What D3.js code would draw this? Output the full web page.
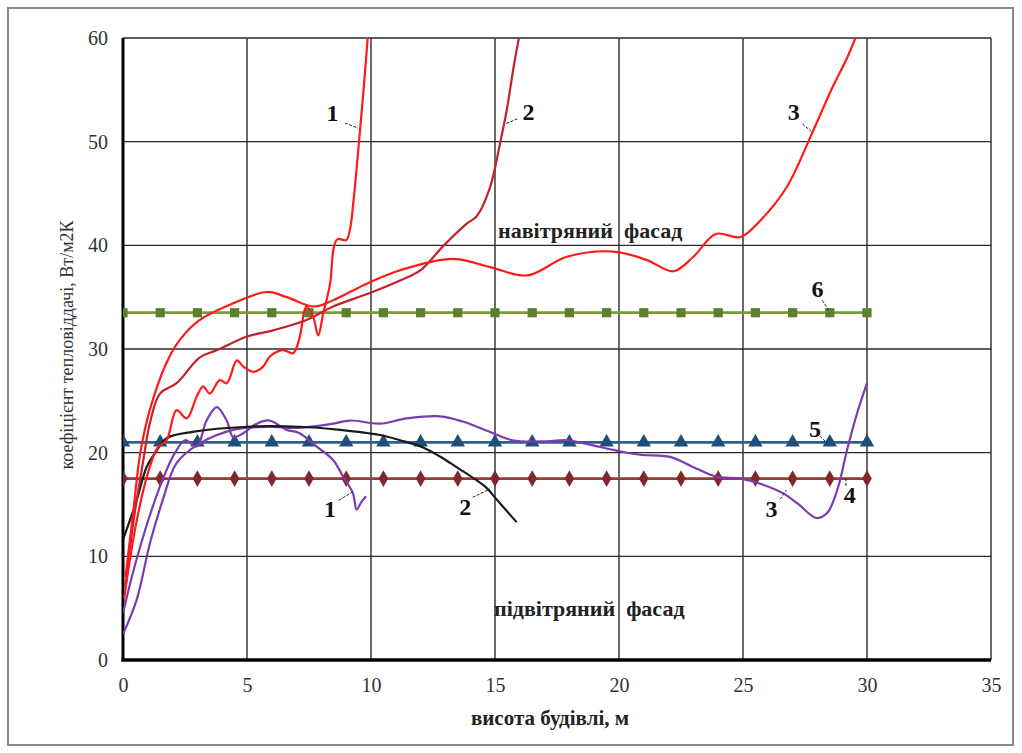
<!DOCTYPE html>
<html><head><meta charset="utf-8">
<script src="https://cdn.jsdelivr.net/npm/d3@7"></script>
<style>
body{margin:0;background:#fff;}
</style></head>
<body><svg id="c" width="1022" height="753"></svg>
<script>
// ---- data ----
const xTicks = [0,5,10,15,20,25,30,35];
const yTicks = [0,10,20,30,40,50,60];
const xTitle = "висота будівлі, м";
const yTitle = "коефіцієнт тепловіддачі, Вт/м2К";
const windwardText = "навітряний  фасад";
const leewardText = "підвітряний  фасад";

// windward curves (red)
const w1x = [0.05,0.3,0.6,1.0,1.4,1.76,2.16,2.57,2.97,3.23,3.5,3.9,4.18,4.59,4.85,5.25,5.65,5.93,6.45,6.86,7.1,7.4,7.67,7.87,8.07,8.35,8.5,8.65,9.0,9.15,9.3,9.52,9.7,9.9];
const w1y = [6,10,14,18,20.5,21.2,24.1,23.3,25.4,26.4,25.7,27,26.7,28.9,28.3,27.8,28.3,29.3,29.9,29.6,30.9,34.1,33.1,31.3,33.4,36.3,39.8,40.6,40.5,41.5,44.4,50.1,55,61];
const w2x = [0.1,0.4,0.8,1.1,1.49,2.16,3.1,3.8,5,6.05,7.4,8.47,9.96,11.17,12,12.9,13.86,14.26,14.8,15.2,15.47,15.8,16.05];
const w2y = [7,13,19,23,25.7,26.7,29.2,29.9,31.2,31.8,32.8,34.1,35.4,36.6,37.6,39.9,42.1,42.8,45.6,49.8,53,57.9,61];
const w3x = [0.1,0.4,0.7,1.09,1.76,2.3,3.1,4.44,5.8,6.6,7.67,8.47,9.83,11.17,13.3,14.8,16.3,17.9,19.77,21.1,22.2,23,23.9,24.9,25.7,26.76,27.8,28.6,29.2,29.7];
const w3y = [8,14,20,24.2,28.7,30.9,32.8,34.4,35.5,35,34.1,34.7,36.3,37.6,38.7,37.9,37.1,38.9,39.4,38.6,37.5,38.9,41.1,40.8,42.4,45.6,50.9,55.2,58.1,61];

// leeward curves
const l1x = [0,0.3,0.7,1.2,1.7,2.1,2.5,2.97,3.37,3.78,4.18,4.44,4.8,5.4,5.9,6.6,7.1,7.8,8.47,8.87,9.27,9.42,9.6,9.8];
const l1y = [4.5,7.5,11,14.8,18,20,21.2,20.6,23.1,24.4,23.1,21.5,21.8,22.8,23.1,22.2,21.9,20.6,19.3,17.7,16.1,14.5,15.2,15.8];
const l2x = [0,0.55,0.95,1.36,1.76,2.8,5,7.1,8.75,10.36,11.17,12.1,12.8,13.45,14.1,14.66,15.06,15.87];
const l2y = [11.6,15.4,18.6,20.2,21.4,22,22.5,22.5,22.2,21.7,21.2,20.5,19.6,18.6,17.6,16.6,15.5,13.3];
const l3x = [0,0.55,1.09,1.6,2.16,3.1,4.44,5.8,7.1,8.47,9.15,10.36,11.44,12.78,13.7,14.8,15.7,17.1,17.9,18.95,19.9,20.85,22.06,23,23.9,24.9,25.7,26.6,27.2,27.96,28.4,28.8,29.2,29.6,30];
const l3y = [2.5,5.8,11.3,15.4,19,20.9,22.2,22.5,22.4,22.8,23.1,22.8,23.3,23.5,23,22,21.2,21.1,21.2,20.7,20.2,19.8,19.6,18.6,17.7,17.5,17,16.1,15.1,13.7,14.2,16.4,20.3,23.8,26.7];

// constant reference series (markers)
const refX = [0,1.5,3,4.5,6,7.5,9,10.5,12,13.5,15,16.5,18,19.5,21,22.5,24,25.5,27,28.5,30];
const s4y = 17.5;  // diamonds
const s5y = 21;    // triangles
const s6y = 33.5;  // squares

// curve number labels: [text, x, y, leaderX1, leaderY1, leaderX2, leaderY2]
const labels = [
  ["1", 8.45, 52.0, 8.95, 51.8, 9.48, 51.3],
  ["2", 16.35, 52.1, 15.9, 52.2, 15.4, 51.7],
  ["3", 27.05, 52.1, 27.4, 51.7, 27.75, 51.0],
  ["6", 28.0, 35.0, 28.2, 34.7, 28.45, 33.75],
  ["5", 27.9, 21.5, 28.1, 21.6, 28.4, 20.9],
  ["4", 29.3, 15.1, 29.15, 16.8, 29.15, 17.5],
  ["1", 8.35, 13.8, 8.7, 15.4, 9.25, 16.2],
  ["2", 13.8, 14.0, 14.1, 15.7, 14.8, 16.5],
  ["3", 26.15, 13.8, 26.5, 15.5, 26.75, 16.4]
];

// ---- drawing ----
const FONT = "'Liberation Serif','Times New Roman',serif";
const svg = d3.select("#c");
const x = d3.scaleLinear().domain([0,35]).range([123,991]);
const y = d3.scaleLinear().domain([0,60]).range([660,38]);

svg.append("rect").attr("x",8).attr("y",8).attr("width",1005).attr("height",737)
  .attr("fill","#fff").attr("stroke","#8a8a8a").attr("stroke-width",2);

// grid
const g = svg.append("g");
g.selectAll(".vg").data(xTicks.slice(1)).enter().append("line")
  .attr("x1",d=>x(d)).attr("x2",d=>x(d)).attr("y1",y(0)).attr("y2",y(60))
  .attr("stroke","#2a2a2a").attr("stroke-width",1.4);
g.selectAll(".hg").data(yTicks.slice(1)).enter().append("line")
  .attr("x1",x(0)).attr("x2",x(35)).attr("y1",d=>y(d)).attr("y2",d=>y(d))
  .attr("stroke","#2a2a2a").attr("stroke-width",1.4);

// axes
const ax = svg.append("g").attr("transform",`translate(0,${y(0)})`)
  .call(d3.axisBottom(x).tickValues(xTicks).tickSize(0).tickPadding(18));
ax.attr("font-family",FONT).attr("font-size",20);
ax.select(".domain").remove();
ax.selectAll("text").attr("fill","#333").attr("font-family",FONT).attr("font-size",20);
const ay = svg.append("g").attr("transform",`translate(${x(0)},0)`)
  .call(d3.axisLeft(y).tickValues(yTicks).tickSize(0).tickPadding(15));
ay.attr("font-family",FONT).attr("font-size",20);
ay.select(".domain").remove();
ay.selectAll("text").attr("fill","#333").attr("font-family",FONT).attr("font-size",20);

svg.append("line").attr("x1",x(0)).attr("x2",x(0)).attr("y1",y(60)).attr("y2",y(0)+1.5)
  .attr("stroke","#000").attr("stroke-width",3);
svg.append("line").attr("x1",x(0)-1.5).attr("x2",x(35)).attr("y1",y(0)).attr("y2",y(0))
  .attr("stroke","#000").attr("stroke-width",3.5);

// titles
svg.append("text").attr("x",550).attr("y",725).attr("text-anchor","middle").attr("font-family",FONT)
  .attr("font-size",21).attr("font-weight","bold").attr("fill","#222").text(xTitle);
svg.append("text").attr("transform","translate(73,345) rotate(-90)").attr("text-anchor","middle")
  .attr("font-family",FONT).attr("font-size",18).attr("fill","#333").text(yTitle);
svg.append("text").attr("x",498).attr("y",238).attr("font-family",FONT)
  .attr("font-size",22).attr("font-weight","bold").attr("fill","#222")
  .style("white-space","pre").text(windwardText);
svg.append("text").attr("x",494).attr("y",616).attr("font-family",FONT)
  .attr("font-size",22).attr("font-weight","bold").attr("fill","#222")
  .style("white-space","pre").text(leewardText);

// clip
svg.append("clipPath").attr("id","clip").append("rect")
  .attr("x",x(0)).attr("y",y(60)).attr("width",x(35)-x(0)).attr("height",y(0)-y(60));
const plot = svg.append("g").attr("clip-path","url(#clip)");

const zip = (xs,ys)=>xs.map((v,i)=>[v,ys[i]]);
const lineSmooth = d3.line().x(d=>x(d[0])).y(d=>y(d[1])).curve(d3.curveCatmullRom.alpha(0.5));
const lineLin = d3.line().x(d=>x(d[0])).y(d=>y(d[1]));

// reference constant lines
function refSeries(val,color,mColor,shape,size){
  const pts = refX.map(v=>[v,val]);
  plot.append("path").attr("d",lineLin(pts)).attr("fill","none")
    .attr("stroke",color).attr("stroke-width",2.8);
  plot.selectAll(null).data(pts).enter().append("path")
    .attr("transform",d=>`translate(${x(d[0])},${y(d[1])})`)
    .attr("d",d3.symbol().type(shape).size(size)).attr("fill",mColor);
}
refSeries(s6y,"#7a9a3c","#5f7f30",d3.symbolSquare,85);
refSeries(s5y,"#2f5f8f","#1f4e79",d3.symbolTriangle,90);
refSeries(s4y,"#973a3a","#7f2a2a",d3.symbolDiamond,80);

const curves = [
  [l3x,l3y,"#7a3cb0",lineSmooth],
  [l1x,l1y,"#7a3cb0",lineSmooth],
  [l2x,l2y,"#1a1a1a",lineSmooth],
  [w2x,w2y,"#c3222b",lineSmooth],
  [w3x,w3y,"#ff1a1a",lineSmooth],
  [w1x,w1y,"#ff1a1a",lineSmooth]
];
curves.forEach(c=>{
  plot.append("path").attr("d",c[3](zip(c[0],c[1]))).attr("fill","none")
    .attr("stroke",c[2]).attr("stroke-width",2.2).attr("stroke-linejoin","round");
});

// curve labels
labels.forEach(l=>{
  svg.append("text").attr("x",x(l[1])).attr("y",y(l[2])).attr("text-anchor","middle")
    .attr("font-family",FONT).attr("font-size",24).attr("font-weight","bold").attr("fill","#111").text(l[0]);
  svg.append("line").attr("x1",x(l[3])).attr("y1",y(l[4])).attr("x2",x(l[5])).attr("y2",y(l[6]))
    .attr("stroke","#222").attr("stroke-width",1).attr("stroke-dasharray","3,1.5");
});
</script></body></html>
